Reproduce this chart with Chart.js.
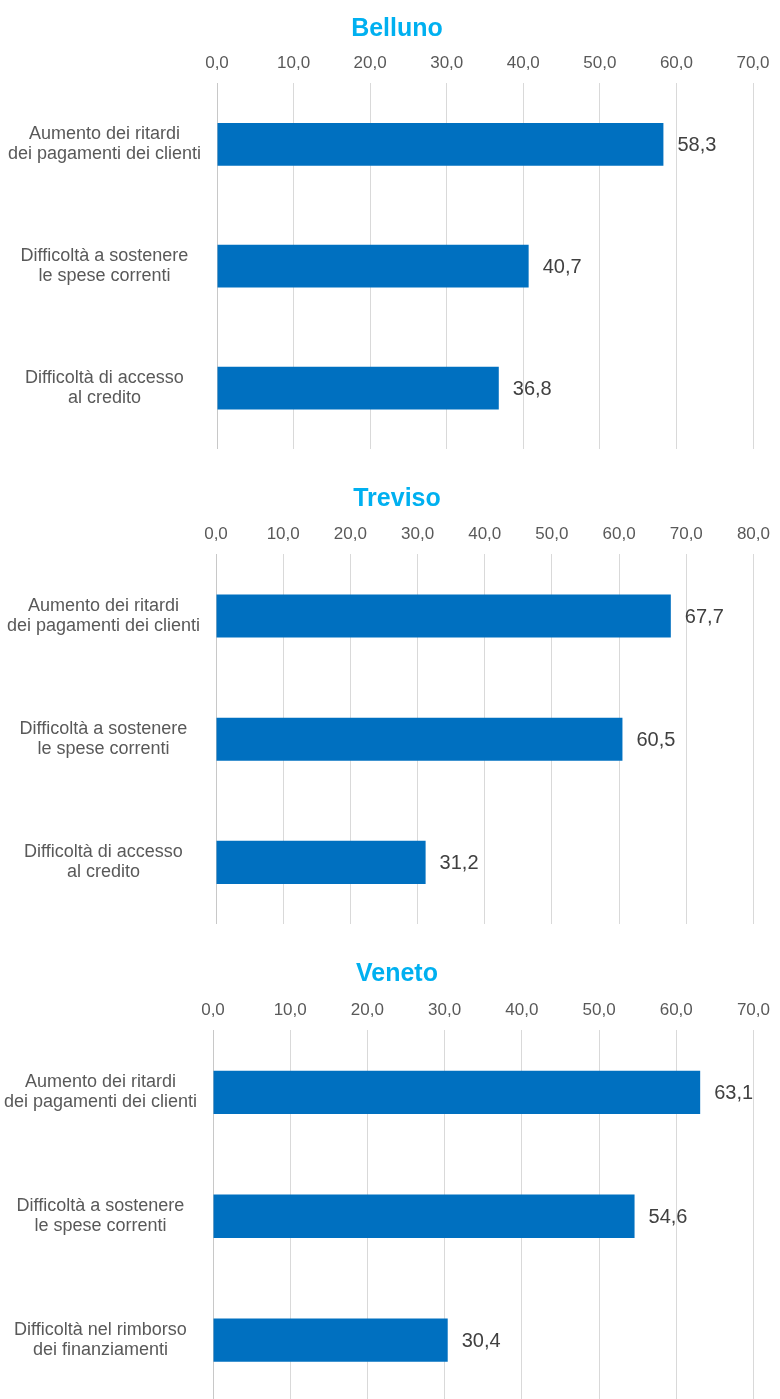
<!DOCTYPE html>
<html lang="it">
<head>
  <meta charset="UTF-8">
  <title>Problemi delle imprese - Belluno, Treviso, Veneto</title>
  <script src="https://cdn.jsdelivr.net/npm/chart.js"></script>
  <style>
    html, body { margin: 0; padding: 0; background: #fff; overflow: hidden; }
    body { width: 780px; height: 1399px; position: relative; font-family: "Liberation Sans", Arial, sans-serif; }
    .blocco { position: absolute; left: 0; width: 780px; }
    .blocco h2 {
      position: absolute; top: 12px; left: 0; width: 780px; margin: 0;
      padding-left: 14px; box-sizing: border-box;
      text-align: center; font-size: 25px; line-height: 30px; font-weight: bold; color: #00B0F0;
    }
    canvas { display: block; }
  </style>
</head>
<body>
  <div class="blocco" style="top:0px"><h2>Belluno</h2><canvas id="grBelluno" width="780" height="455"></canvas></div>
  <div class="blocco" style="top:470px"><h2>Treviso</h2><canvas id="grTreviso" width="780" height="460"></canvas></div>
  <div class="blocco" style="top:945px"><h2>Veneto</h2><canvas id="grVeneto" width="780" height="463"></canvas></div>

  <script>
    // categorie (etichette su due righe)
    const categorieBelluno = [
      ['Aumento dei ritardi', 'dei pagamenti dei clienti'],
      ['Difficoltà a sostenere', 'le spese correnti'],
      ['Difficoltà di accesso', 'al credito']
    ];
    const categorieTreviso = [
      ['Aumento dei ritardi', 'dei pagamenti dei clienti'],
      ['Difficoltà a sostenere', 'le spese correnti'],
      ['Difficoltà di accesso', 'al credito']
    ];
    const categorieVeneto = [
      ['Aumento dei ritardi', 'dei pagamenti dei clienti'],
      ['Difficoltà a sostenere', 'le spese correnti'],
      ['Difficoltà nel rimborso', 'dei finanziamenti']
    ];

    // valori percentuali
    const valoriBelluno = [58.3, 40.7, 36.8];
    const valoriTreviso = [67.7, 60.5, 31.2];
    const valoriVeneto = [63.1, 54.6, 30.4];

    // massimo dell'asse
    const maxBelluno = 70;
    const maxTreviso = 80;
    const maxVeneto = 70;

    const formatta = v => Number(v).toFixed(1).replace('.', ',');

    // etichette dei valori a destra delle barre
    const etichetteValori = {
      id: 'etichetteValori',
      afterDatasetsDraw(chart) {
        const ctx = chart.ctx;
        const meta = chart.getDatasetMeta(0);
        ctx.save();
        ctx.font = '20px "Liberation Sans", Arial, sans-serif';
        ctx.fillStyle = '#404040';
        ctx.textAlign = 'left';
        ctx.textBaseline = 'middle';
        meta.data.forEach((bar, i) => {
          ctx.fillText(formatta(chart.data.datasets[0].data[i]), bar.x + 14, bar.y + 1);
        });
        ctx.restore();
      }
    };

    function creaGrafico(id, categorie, valori, max, sinistra, destra, sopra) {
      const ctx = document.getElementById(id).getContext('2d');
      return new Chart(ctx, {
        type: 'bar',
        data: {
          labels: categorie,
          datasets: [{
            data: valori,
            backgroundColor: '#0070C0',
            borderWidth: 0,
            categoryPercentage: 1,
            barPercentage: 0.35
          }]
        },
        options: {
          indexAxis: 'y',
          responsive: false,
          animation: false,
          devicePixelRatio: 1,
          layout: { padding: { top: sopra, right: destra, bottom: 6, left: 0 } },
          plugins: {
            legend: { display: false },
            tooltip: { enabled: false }
          },
          scales: {
            x: {
              position: 'top',
              min: 0,
              max: max,
              ticks: {
                stepSize: 10,
                padding: 10,
                color: '#595959',
                font: { family: '"Liberation Sans", Arial, sans-serif', size: 17 },
                callback: v => formatta(v)
              },
              grid: {
                drawTicks: false,
                lineWidth: 1,
                color: c => (c.tick && c.tick.value === 0) ? '#C8C8C8' : '#D9D9D9'
              },
              border: { display: false }
            },
            y: {
              grid: { display: false, drawTicks: false },
              border: { display: false },
              ticks: {
                crossAlign: 'center',
                padding: 16,
                color: '#595959',
                font: { family: '"Liberation Sans", Arial, sans-serif', size: 18, lineHeight: 1.1 }
              },
              afterFit: scala => {
                scala.width = sinistra;
                scala.paddingTop = 0;
                scala.paddingBottom = 0;
              }
            }
          }
        },
        plugins: [etichetteValori]
      });
    }

    creaGrafico('grBelluno', categorieBelluno, valoriBelluno, maxBelluno, 217, 27, 43);
    creaGrafico('grTreviso', categorieTreviso, valoriTreviso, maxTreviso, 216, 22, 44);
    creaGrafico('grVeneto', categorieVeneto, valoriVeneto, maxVeneto, 213, 16, 45);
  </script>
</body>
</html>
